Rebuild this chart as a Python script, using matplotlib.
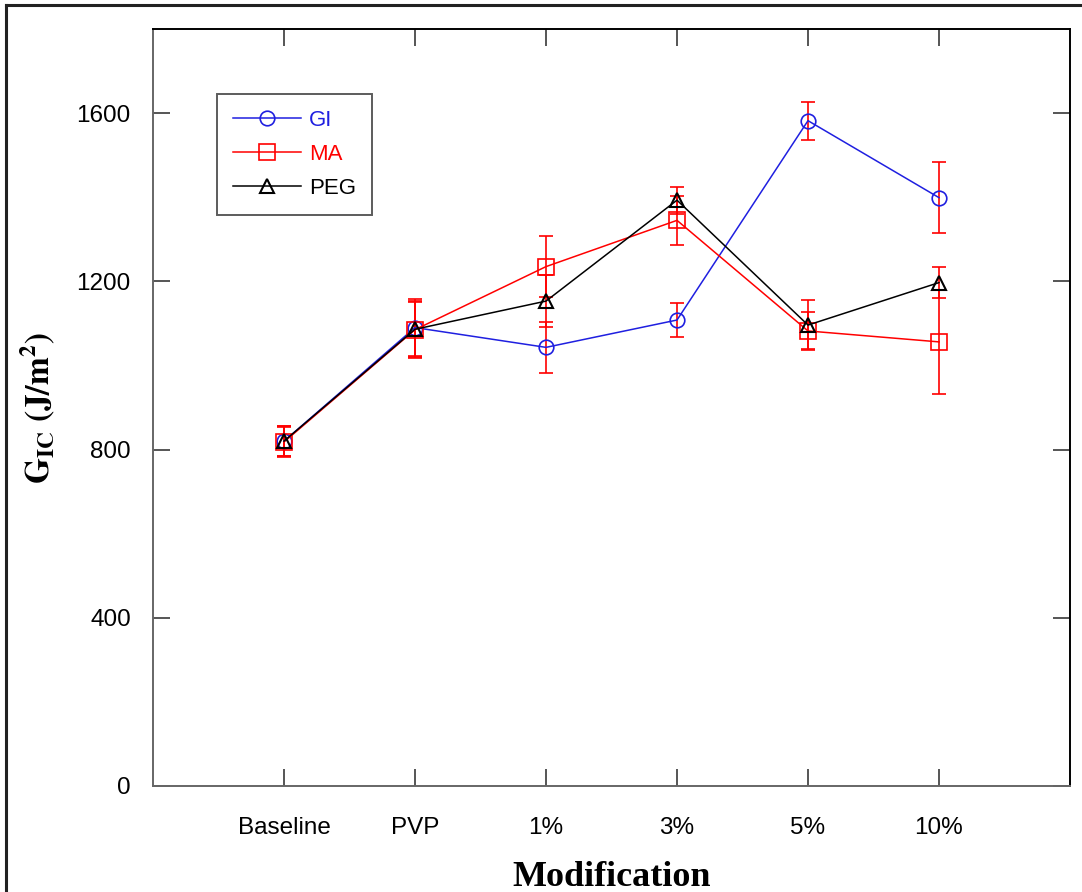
import numpy as np
import matplotlib.pyplot as plt
from matplotlib.lines import Line2D

plt.rcParams['font.family'] = ['Liberation Sans', 'DejaVu Sans']
plt.rcParams['mathtext.fontset'] = 'stix'

categories = ['Baseline', 'PVP', '1%', '3%', '5%', '10%']

gi = [820, 1090, 1043, 1108, 1582, 1399]
gi_err = [35, 67, 61, 41, 45, 84]

ma = [818, 1085, 1235, 1345, 1082, 1056]
ma_err = [35, 67, 73, 59, 44, 124]

peg = [820, 1086, 1153, 1393, 1096, 1197]
peg_err = [35, 67, 61, 32, 60, 37]

x = np.arange(1, len(categories) + 1)

fig = plt.figure(figsize=(10.82, 8.92), dpi=100)
ax = fig.add_axes([153 / 1082, 1 - 786 / 892, (1070 - 153) / 1082, (786 - 29) / 892])

ekw = dict(ecolor='red', elinewidth=1.2, capsize=5, capthick=1.2, zorder=2)
ax.errorbar(x, gi, yerr=gi_err, fmt='none', **ekw)
ax.errorbar(x, ma, yerr=ma_err, fmt='none', **ekw)
ax.errorbar(x, peg, yerr=peg_err, fmt='none', **ekw)

ax.plot(x, gi, color='#1f1fe0', lw=1.1, marker='o', ms=10.5, mfc='none', mec='#1f1fe0',
        mew=1.2, label='GI', zorder=3)
ax.plot(x, ma, color='red', lw=1.1, marker='s', ms=11.5, mfc='none', mec='red',
        mew=1.2, label='MA', zorder=3)
ax.plot(x, peg, color='black', lw=1.1, marker='^', ms=10, mfc='none', mec='black',
        mew=1.5, label='PEG', zorder=4)

ax.set_xlim(0, 7)
ax.set_ylim(0, 1800)
ax.set_xticks(x)
ax.set_xticklabels(categories)
ax.set_yticks([0, 400, 800, 1200, 1600])
ax.tick_params(axis='both', direction='in', length=12, width=1.4, color='#555555',
               top=True, right=True, labelsize=17.5)
ax.tick_params(axis='y', pad=16)
ax.tick_params(axis='x', pad=22)
for s in ['top', 'right']:
    ax.spines[s].set_color('black')
    ax.spines[s].set_linewidth(1.4)
for s in ['left', 'bottom']:
    ax.spines[s].set_color('#666666')
    ax.spines[s].set_linewidth(1.4)

ax.set_xlabel('Modification', fontsize=26, fontweight='bold',
              family=['Liberation Serif', 'DejaVu Serif'], labelpad=16)
ax.set_ylabel(r'$\mathbf{G_{IC}\ (J/m^2)}$', fontsize=24, labelpad=14)

leg = ax.legend(loc='upper left', bbox_to_anchor=((217 - 153) / 917, (786 - 94) / 757),
                fontsize=16, frameon=True, fancybox=False, edgecolor='#333333',
                handlelength=3.1, handletextpad=0.35, borderpad=0.7, labelspacing=0.6,
                borderaxespad=0)
leg.get_frame().set_linewidth(1.4)
for txt, col in zip(leg.get_texts(), ['#1f1fe0', 'red', 'black']):
    txt.set_color(col)

# outer frame around the whole figure
fig.add_artist(Line2D([6 / 1082, 6 / 1082], [0, 1 - 5 / 892], color='#222222', lw=2.2))
fig.add_artist(Line2D([6 / 1082, 1], [1 - 5 / 892, 1 - 5 / 892], color='#222222', lw=2.2))

fig.savefig('out.png', dpi=100)
